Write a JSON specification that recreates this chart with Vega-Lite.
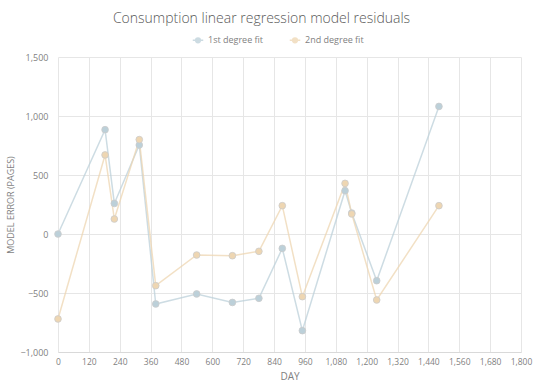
{
  "$schema": "https://vega.github.io/schema/vega-lite/v6.json",
  "width": 463,
  "height": 295,
  "autosize": {"type": "none"},
  "padding": {"left": 58, "top": 57, "right": 19, "bottom": 40},
  "background": "white",
  "title": {
    "text": "Consumption linear regression model residuals",
    "font": "Open Sans",
    "fontSize": 14,
    "fontWeight": 300,
    "color": "#595959",
    "anchor": "middle",
    "dx": -28,
    "offset": 8
  },
  "data": {
    "values": [
      {"day": 0, "err": 0, "fit": "1st degree fit"},
      {"day": 183, "err": 884, "fit": "1st degree fit"},
      {"day": 219, "err": 259, "fit": "1st degree fit"},
      {"day": 316, "err": 754, "fit": "1st degree fit"},
      {"day": 380, "err": -593, "fit": "1st degree fit"},
      {"day": 539, "err": -508, "fit": "1st degree fit"},
      {"day": 678, "err": -580, "fit": "1st degree fit"},
      {"day": 781, "err": -545, "fit": "1st degree fit"},
      {"day": 872, "err": -122, "fit": "1st degree fit"},
      {"day": 950, "err": -819, "fit": "1st degree fit"},
      {"day": 1116, "err": 367, "fit": "1st degree fit"},
      {"day": 1142, "err": 178, "fit": "1st degree fit"},
      {"day": 1239, "err": -396, "fit": "1st degree fit"},
      {"day": 1481, "err": 1081, "fit": "1st degree fit"},
      {"day": 0, "err": -720, "fit": "2nd degree fit"},
      {"day": 183, "err": 670, "fit": "2nd degree fit"},
      {"day": 219, "err": 127, "fit": "2nd degree fit"},
      {"day": 316, "err": 800, "fit": "2nd degree fit"},
      {"day": 380, "err": -438, "fit": "2nd degree fit"},
      {"day": 539, "err": -178, "fit": "2nd degree fit"},
      {"day": 678, "err": -184, "fit": "2nd degree fit"},
      {"day": 781, "err": -147, "fit": "2nd degree fit"},
      {"day": 872, "err": 240, "fit": "2nd degree fit"},
      {"day": 950, "err": -531, "fit": "2nd degree fit"},
      {"day": 1116, "err": 429, "fit": "2nd degree fit"},
      {"day": 1142, "err": 170, "fit": "2nd degree fit"},
      {"day": 1239, "err": -559, "fit": "2nd degree fit"},
      {"day": 1481, "err": 240, "fit": "2nd degree fit"}
    ]
  },
  "encoding": {
    "x": {
      "field": "day",
      "type": "quantitative",
      "scale": {"domain": [0, 1800], "nice": false, "zero": false},
      "axis": {
        "title": "DAY",
        "values": [0, 120, 240, 360, 480, 600, 720, 840, 960, 1080, 1200, 1320, 1440, 1560, 1680, 1800],
        "format": ",d",
        "labelOverlap": false,
        "labelBound": false,
        "labelFlush": false,
        "domain": true,
        "domainColor": "#d9d9d9",
        "ticks": false,
        "grid": true,
        "gridColor": "#e6e6e6",
        "labelFont": "Open Sans",
        "labelFontSize": 8.5,
        "labelColor": "#7f7f7f",
        "labelPadding": 5,
        "titleFont": "Open Sans",
        "titleFontSize": 10,
        "titleFontWeight": "normal",
        "titleColor": "#7f7f7f",
        "titlePadding": 6
      }
    },
    "y": {
      "field": "err",
      "type": "quantitative",
      "scale": {"domain": [-1000, 1500], "nice": false},
      "axis": {
        "title": "MODEL ERROR (PAGES)",
        "values": [-1000, -500, 0, 500, 1000, 1500],
        "format": ",d",
        "labelOverlap": false,
        "domain": false,
        "ticks": false,
        "grid": true,
        "gridColor": "#e6e6e6",
        "labelFont": "Open Sans",
        "labelFontSize": 9,
        "labelColor": "#7f7f7f",
        "labelPadding": 10,
        "titleFont": "Open Sans",
        "titleFontSize": 9,
        "titleFontWeight": "normal",
        "titleColor": "#7f7f7f",
        "titlePadding": 4
      }
    },
    "color": {
      "field": "fit",
      "type": "nominal",
      "scale": {"domain": ["1st degree fit", "2nd degree fit"], "range": ["#bcd0d9", "#eed6b2"]},
      "legend": {
        "title": null,
        "orient": "none",
        "direction": "horizontal",
        "legendX": 134,
        "legendY": -23,
        "labelFont": "Open Sans",
        "labelFontSize": 9,
        "labelColor": "#7f7f7f",
        "columnPadding": 22,
        "symbolType": "M-1,0L1,0M0.45,0A0.45,0.45 0 1,1 -0.45,0A0.45,0.45 0 1,1 0.45,0",
        "symbolSize": 110,
        "symbolStrokeWidth": 1.5
      }
    }
  },
  "layer": [
    {"mark": {"type": "line", "strokeWidth": 1.5, "opacity": 0.75}},
    {"mark": {"type": "point", "filled": true, "size": 45, "opacity": 1, "stroke": "#cccccc", "strokeWidth": 0.8}}
  ],
  "config": {"view": {"stroke": null}}
}
